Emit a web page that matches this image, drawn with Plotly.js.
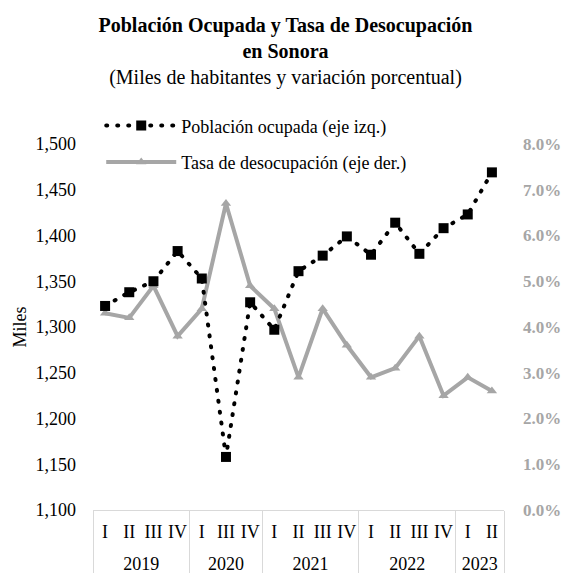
<!DOCTYPE html>
<html>
<head>
<meta charset="utf-8">
<script src="https://cdn.plot.ly/plotly-3.0.1.min.js"></script>
<style>
  body { margin: 0; background: #fff; }
  #chart { width: 571px; height: 573px; }
  .pob .js-line { stroke-linecap: round !important; }
</style>
</head>
<body>
<div id="chart"></div>
<script>
// Años y trimestres (ENOE no levantó el II trimestre de 2020)
var years = ['2019', '2019', '2019', '2019', '2020', '2020', '2020',
    '2021', '2021', '2021', '2021', '2022', '2022', '2022', '2022', '2023', '2023'];
var quarters = ['I', 'II', 'III', 'IV', 'I', 'III', 'IV',
    'I', 'II', 'III', 'IV', 'I', 'II', 'III', 'IV', 'I', 'II'];

// Población ocupada, miles
var poblacion = [1323, 1338, 1350, 1383, 1353, 1158, 1327,
    1297, 1361, 1378, 1399, 1379, 1414, 1380, 1408, 1423, 1469];

// Tasa de desocupación, proporción
var tasa = [0.043, 0.042, 0.049, 0.038, 0.044, 0.067, 0.049,
    0.044, 0.029, 0.044, 0.036, 0.029, 0.031, 0.038, 0.025, 0.029, 0.026];

var serif = '"Times New Roman", "Liberation Serif", serif';
var gris = '#a6a6a6';

var traces = [
    {
        x: [years, quarters],
        y: tasa,
        name: 'Tasa de desocupación (eje der.)',
        mode: 'lines+markers',
        line: {color: gris, width: 4},
        marker: {symbol: 'triangle-up', size: 9, color: gris},
        yaxis: 'y',
        legendgroup: 'b',
        legendrank: 2
    },
    {
        x: [years, quarters],
        y: poblacion,
        name: 'Población ocupada (eje izq.)',
        mode: 'lines+markers',
        line: {color: '#000', width: 4, dash: '1px,10px'},
        marker: {symbol: 'square', size: 10, color: '#000'},
        yaxis: 'y2',
        legendgroup: 'a',
        legendrank: 1
    }
];

var layout = {
    width: 571,
    height: 573,
    paper_bgcolor: '#fff',
    plot_bgcolor: '#fff',
    font: {family: serif, size: 18, color: '#000'},
    title: {
        text: '<b>Población Ocupada y Tasa de Desocupación<br>en Sonora</b><br>(Miles de habitantes y variación porcentual)',
        font: {family: serif, size: 20, color: '#000'},
        x: 0.5,
        xanchor: 'center',
        y: 0.945,
        yanchor: 'top'
    },
    showlegend: true,
    legend: {
        x: 0.02,
        y: 1.1,
        xanchor: 'left',
        yanchor: 'top',
        bgcolor: 'rgba(0,0,0,0)',
        font: {family: serif, size: 18, color: '#000'},
        traceorder: 'grouped',
        tracegroupgap: 10,
        itemwidth: 70
    },
    margin: {l: 93, r: 67, t: 144, b: 63},
    xaxis: {
        type: 'multicategory',
        range: [-0.5, 16.5],
        showline: true,
        linecolor: '#d9d9d9',
        linewidth: 1,
        showgrid: false,
        ticks: '',
        tickangle: 0,
        showdividers: true,
        dividercolor: '#d9d9d9',
        dividerwidth: 1,
        ticklabelstandoff: 5,
        tickfont: {family: serif, size: 18, color: '#000'}
    },
    yaxis: {
        side: 'right',
        range: [0, 0.08],
        dtick: 0.01,
        tickformat: '.1%',
        showgrid: false,
        zeroline: false,
        showline: false,
        ticks: '',
        ticklabelstandoff: 18,
        tickfont: {family: serif, size: 17, color: gris, weight: 'bold'}
    },
    yaxis2: {
        overlaying: 'y',
        side: 'left',
        range: [1100, 1500],
        dtick: 50,
        tickformat: ',',
        showgrid: false,
        zeroline: false,
        showline: false,
        ticks: '',
        ticklabelstandoff: 16,
        title: {text: 'Miles', font: {family: serif, size: 18, color: '#000'}, standoff: 4},
        tickfont: {family: serif, size: 18, color: '#000'}
    }
};

Plotly.newPlot('chart', traces, layout, {displayModeBar: false, responsive: false}).then(function (gd) {
    // puntos redondos para la serie de población
    gd.querySelectorAll('.scatterlayer .trace, .legend .traces').forEach(function (g) {
        var path = g.querySelector('.js-line');
        if (path && path.style.stroke === 'rgb(0, 0, 0)') {
            g.classList.add('pob');
        }
    });
    // años más abajo, como en el original, y divisores hasta el borde
    gd.querySelectorAll('.xtick2').forEach(function (g) {
        var t = g.getAttribute('transform') || '';
        g.setAttribute('transform', t + ' translate(0,15)');
    });
    gd.querySelectorAll('.xdivider').forEach(function (p) {
        var d = p.getAttribute('d') || '';
        p.setAttribute('d', d.replace(/v(-?[\d.]+)/, function (m, n) {
            return 'v' + (parseFloat(n) + 25);
        }));
    });
});
</script>
</body>
</html>
